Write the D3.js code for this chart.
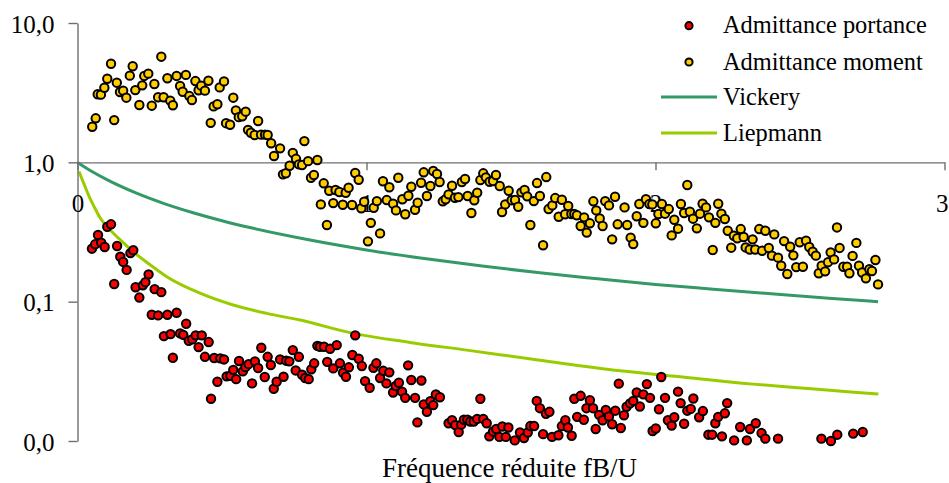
<!DOCTYPE html>
<html><head><meta charset="utf-8">
<script src="https://cdn.jsdelivr.net/npm/d3@7"></script>
</head>
<body style="margin:0">
<svg id="chart" width="949" height="483" style="font-family:'Liberation Serif'"></svg>
<script>
// ---- data ----
const xTicks = [0, 1, 2, 3];
const yTicks = [0.01, 0.1, 1, 10];
const xTitle = "Fréquence réduite fB/U";
const seriesNames = ["Admittance portance", "Admittance moment", "Vickery", "Liepmann"];

const portance = [[0.050,0.240],[0.061,0.258],[0.071,0.301],[0.082,0.265],[0.094,0.247],[0.103,0.345],[0.116,0.359],[0.127,0.134],[0.137,0.251],[0.148,0.210],[0.158,0.193],[0.170,0.169],[0.183,0.223],[0.193,0.234],[0.201,0.127],[0.214,0.107],[0.226,0.131],[0.235,0.138],[0.246,0.157],[0.257,0.0805],[0.267,0.123],[0.279,0.0797],[0.290,0.117],[0.311,0.0805],[0.343,0.0832],[0.376,0.0694],[0.299,0.0566],[0.322,0.0585],[0.330,0.0396],[0.355,0.0592],[0.366,0.0578],[0.385,0.0524],[0.397,0.0536],[0.409,0.0573],[0.419,0.0472],[0.430,0.0573],[0.441,0.0402],[0.454,0.0513],[0.462,0.0201],[0.473,0.0394],[0.484,0.0266],[0.494,0.0392],[0.507,0.0385],[0.516,0.0291],[0.529,0.0294],[0.539,0.0324],[0.549,0.0278],[0.559,0.0375],[0.572,0.0316],[0.581,0.0339],[0.592,0.0356],[0.604,0.0259],[0.614,0.0373],[0.625,0.0334],[0.636,0.0467],[0.648,0.0288],[0.658,0.0402],[0.669,0.0351],[0.679,0.0237],[0.689,0.0266],[0.701,0.0385],[0.713,0.0289],[0.722,0.0377],[0.733,0.0373],[0.745,0.0449],[0.755,0.0321],[0.766,0.0402],[0.777,0.0299],[0.788,0.0283],[0.800,0.0278],[0.809,0.0327],[0.819,0.0361],[0.830,0.0482],[0.839,0.0475],[0.853,0.0475],[0.864,0.0370],[0.874,0.0459],[0.885,0.0332],[0.897,0.0488],[0.908,0.0361],[0.919,0.0309],[0.929,0.0289],[0.939,0.0338],[0.951,0.0414],[0.961,0.0573],[0.973,0.0389],[0.984,0.0345],[0.995,0.0269],[1.011,0.0241],[1.024,0.0335],[1.034,0.0361],[1.047,0.0283],[1.058,0.0319],[1.069,0.0259],[1.079,0.0311],[1.092,0.0223],[1.101,0.0248],[1.112,0.0262],[1.123,0.0226],[1.134,0.0204],[1.144,0.0349],[1.155,0.0274],[1.168,0.0204],[1.176,0.0136],[1.190,0.0272],[1.198,0.0183],[1.209,0.0162],[1.221,0.0193],[1.231,0.0181],[1.240,0.0216],[1.254,0.0206],[1.284,0.0134],[1.296,0.0141],[1.307,0.0130],[1.319,0.0116],[1.328,0.0131],[1.337,0.0142],[1.349,0.0142],[1.359,0.0138],[1.371,0.0138],[1.383,0.0144],[1.394,0.0201],[1.404,0.0144],[1.416,0.0134],[1.425,0.0108],[1.438,0.0117],[1.449,0.0122],[1.460,0.0107],[1.470,0.0127],[1.482,0.0107],[1.491,0.0125],[1.513,0.0101],[1.531,0.0115],[1.545,0.0105],[1.558,0.0115],[1.567,0.0128],[1.580,0.0128],[1.589,0.0194],[1.600,0.0172],[1.611,0.0112],[1.621,0.0157],[1.633,0.0162],[1.642,0.0107],[1.664,0.0110],[1.676,0.0128],[1.688,0.0141],[1.697,0.0125],[1.710,0.0109],[1.719,0.0201],[1.729,0.0149],[1.741,0.0211],[1.752,0.0142],[1.761,0.0172],[1.773,0.0196],[1.784,0.0172],[1.793,0.0122],[1.805,0.0154],[1.817,0.0141],[1.828,0.0167],[1.839,0.0150],[1.850,0.0132],[1.861,0.0165],[1.873,0.0258],[1.880,0.0124],[1.891,0.0153],[1.900,0.0176],[1.912,0.0186],[1.923,0.0194],[1.935,0.0223],[1.946,0.0177],[1.958,0.0216],[1.970,0.0256],[1.981,0.0204],[1.990,0.0118],[2.001,0.0123],[2.012,0.0169],[2.020,0.0288],[2.033,0.0204],[2.043,0.0141],[2.056,0.0129],[2.065,0.0148],[2.078,0.0226],[2.087,0.0187],[2.099,0.0133],[2.110,0.0165],[2.122,0.0170],[2.131,0.0202],[2.151,0.0148],[2.164,0.0164],[2.183,0.0111],[2.196,0.0111],[2.207,0.0134],[2.217,0.0149],[2.230,0.0108],[2.240,0.0158],[2.248,0.0187],[2.272,0.0101],[2.293,0.0126],[2.316,0.0101],[2.327,0.0122],[2.347,0.0134],[2.367,0.0114],[2.380,0.0104],[2.424,0.0104],[2.574,0.0104],[2.607,0.0100],[2.629,0.0111],[2.684,0.0113],[2.717,0.0116]];

const moment = [[0.051,1.80],[0.063,2.07],[0.070,3.08],[0.081,3.06],[0.093,3.43],[0.103,3.98],[0.116,5.10],[0.127,2.01],[0.136,3.73],[0.147,3.20],[0.158,3.27],[0.169,2.91],[0.181,4.19],[0.191,4.89],[0.200,3.30],[0.214,2.58],[0.224,3.57],[0.231,4.17],[0.245,4.33],[0.257,2.55],[0.266,3.65],[0.279,2.93],[0.290,5.73],[0.298,2.93],[0.311,4.01],[0.321,2.77],[0.330,2.57],[0.343,4.17],[0.355,3.53],[0.364,3.21],[0.375,4.24],[0.387,2.99],[0.396,2.80],[0.408,3.83],[0.419,3.29],[0.428,3.55],[0.441,3.27],[0.453,3.85],[0.461,1.92],[0.471,2.52],[0.484,2.61],[0.492,3.45],[0.507,3.81],[0.514,1.91],[0.528,1.86],[0.539,2.91],[0.548,2.36],[0.558,2.11],[0.570,2.14],[0.582,2.31],[0.590,1.71],[0.600,1.63],[0.613,1.57],[0.625,1.98],[0.635,1.58],[0.649,1.58],[0.658,1.57],[0.670,1.37],[0.680,1.11],[0.701,1.26],[0.711,0.820],[0.721,0.834],[0.734,0.945],[0.745,1.17],[0.756,1.06],[0.766,0.967],[0.777,0.956],[0.785,1.42],[0.798,1.02],[0.808,0.775],[0.818,0.811],[0.830,1.04],[0.842,0.499],[0.852,0.707],[0.863,0.355],[0.871,0.625],[0.885,0.510],[0.893,0.633],[0.906,0.612],[0.918,0.496],[0.928,0.605],[0.938,0.657],[0.950,0.494],[0.961,0.838],[0.973,0.750],[0.982,0.468],[0.992,0.521],[1.005,0.271],[1.015,0.368],[1.025,0.472],[1.036,0.527],[1.047,0.309],[1.057,0.731],[1.070,0.536],[1.079,0.662],[1.092,0.504],[1.102,0.452],[1.110,0.775],[1.124,0.543],[1.134,0.424],[1.145,0.576],[1.155,0.668],[1.168,0.457],[1.177,0.513],[1.189,0.714],[1.198,0.848],[1.209,0.573],[1.221,0.676],[1.231,0.866],[1.244,0.824],[1.253,0.722],[1.264,0.525],[1.274,0.543],[1.284,0.589],[1.296,0.679],[1.306,0.557],[1.318,0.563],[1.330,0.722],[1.341,0.759],[1.350,0.573],[1.363,0.433],[1.373,0.534],[1.383,0.605],[1.394,0.746],[1.404,0.834],[1.413,0.780],[1.426,0.726],[1.438,0.734],[1.448,0.811],[1.461,0.676],[1.469,0.440],[1.480,0.499],[1.492,0.625],[1.502,0.534],[1.514,0.536],[1.525,0.480],[1.536,0.609],[1.547,0.633],[1.556,0.570],[1.567,0.355],[1.579,0.527],[1.590,0.710],[1.600,0.573],[1.611,0.254],[1.622,0.784],[1.630,0.462],[1.643,0.491],[1.653,0.554],[1.665,0.407],[1.676,0.539],[1.687,0.424],[1.698,0.486],[1.709,0.426],[1.719,0.426],[1.728,0.417],[1.741,0.349],[1.753,0.403],[1.762,0.313],[1.773,0.365],[1.785,0.525],[1.795,0.452],[1.807,0.396],[1.817,0.349],[1.826,0.527],[1.839,0.491],[1.850,0.280],[1.860,0.566],[1.869,0.359],[1.893,0.475],[1.902,0.355],[1.914,0.288],[1.923,0.259],[1.935,0.410],[1.944,0.502],[1.958,0.368],[1.967,0.543],[1.979,0.502],[1.989,0.499],[2.001,0.365],[2.010,0.426],[2.022,0.502],[2.033,0.428],[2.046,0.462],[2.056,0.299],[2.065,0.387],[2.078,0.334],[2.088,0.502],[2.099,0.433],[2.110,0.687],[2.119,0.442],[2.130,0.394],[2.143,0.336],[2.154,0.428],[2.163,0.504],[2.175,0.475],[2.185,0.403],[2.198,0.235],[2.207,0.368],[2.217,0.504],[2.228,0.428],[2.240,0.392],[2.250,0.323],[2.262,0.244],[2.271,0.297],[2.283,0.285],[2.295,0.332],[2.305,0.291],[2.312,0.245],[2.326,0.237],[2.336,0.280],[2.345,0.237],[2.359,0.332],[2.369,0.232],[2.380,0.323],[2.392,0.243],[2.403,0.214],[2.411,0.304],[2.424,0.207],[2.435,0.181],[2.445,0.272],[2.456,0.158],[2.466,0.248],[2.477,0.215],[2.487,0.177],[2.499,0.267],[2.510,0.178],[2.521,0.274],[2.532,0.247],[2.544,0.228],[2.555,0.214],[2.565,0.160],[2.575,0.181],[2.587,0.165],[2.597,0.192],[2.606,0.226],[2.618,0.201],[2.628,0.341],[2.637,0.243],[2.650,0.178],[2.663,0.178],[2.671,0.160],[2.682,0.213],[2.695,0.264],[2.704,0.181],[2.715,0.162],[2.728,0.147],[2.740,0.171],[2.749,0.166],[2.761,0.199],[2.770,0.133]];

const vickery = [[0,1.0],[0.05,0.86],[0.1,0.755],[0.2,0.606],[0.3,0.506],[0.4,0.435],[0.5,0.381],[0.6,0.339],[0.8,0.278],[1.0,0.235],[1.2,0.204],[1.4,0.180],[1.6,0.161],[1.8,0.146],[2.0,0.133],[2.2,0.123],[2.4,0.114],[2.6,0.106],[2.77,0.100]];

const liepmann = [[0.005,0.86],[0.02,0.72],[0.04,0.57],[0.06,0.47],[0.078,0.40],[0.1,0.35],[0.15,0.275],[0.193,0.228],[0.25,0.185],[0.309,0.151],[0.424,0.115],[0.539,0.0946],[0.655,0.0824],[0.77,0.0738],[0.954,0.0592],[1.15,0.051],[1.347,0.0449],[1.6,0.038],[1.877,0.0319],[2.1,0.0287],[2.338,0.0256],[2.55,0.0236],[2.771,0.0217]];

// ---- drawing ----
const svg = d3.select("#chart");
const x = d3.scaleLinear().domain([0, 3]).range([77.5, 944.5]);
const y = d3.scaleLog().domain([0.01, 10]).range([441, 23]);
const axisColor = "#6f6f6f";
const fmt = d => d3.format(".1f")(d).replace(".", ",");
const serif = sel => sel.style("font-family", "'Liberation Serif'");

// lines (behind points)
const line = d3.line().x(d => x(d[0])).y(d => y(d[1])).curve(d3.curveMonotoneX);
svg.append("path").datum(vickery).attr("d", line).attr("fill", "none").attr("stroke", "#339966").attr("stroke-width", 3);
svg.append("path").datum(liepmann).attr("d", line).attr("fill", "none").attr("stroke", "#99CC00").attr("stroke-width", 3);

// y axis
const gy = svg.append("g").attr("transform", "translate(77.5,0)")
  .call(d3.axisLeft(y).tickValues(yTicks).tickFormat(fmt).tickSize(9).tickSizeOuter(0).tickPadding(14));
gy.attr("font-family", null).attr("font-size", null);
gy.selectAll("text").attr("font-size", 25).attr("fill", "#000").attr("dy", "0.36em").call(serif);

// x axis at y = 1
const gx = svg.append("g").attr("transform", `translate(0,${y(1)})`)
  .call(d3.axisBottom(x).tickValues(xTicks).tickFormat(d3.format("d")).tickSize(8).tickSizeOuter(0).tickPadding(24));
gx.attr("font-family", null).attr("font-size", null);
gx.selectAll("text").attr("font-size", 25).attr("fill", "#000").call(serif);
// keep the last label inside the picture (it sits at the right edge)
gx.selectAll(".tick text").filter(d => d === xTicks[xTicks.length - 1])
  .attr("text-anchor", "end").attr("x", 3.5);

svg.selectAll(".domain, .tick line").attr("stroke", axisColor).attr("stroke-width", 1.4);

// points
function dots(data, fill) {
  svg.append("g").selectAll("circle").data(data).join("circle")
    .attr("cx", d => x(d[0])).attr("cy", d => y(d[1])).attr("r", 4.2)
    .attr("fill", fill).attr("stroke", "#000").attr("stroke-width", 2);
}
dots(portance, "#FF0000");
dots(moment, "#FFCC00");

// x title
svg.append("text").attr("x", 509.5).attr("y", 476.5).attr("text-anchor", "middle")
  .attr("font-size", 27).attr("fill", "#000").call(serif).text(xTitle);

// legend
const lg = svg.append("g");
const legY = [25.7, 62, 97, 133];
const legItems = [
  {name: seriesNames[0], type: "dot", color: "#FF0000"},
  {name: seriesNames[1], type: "dot", color: "#FFCC00"},
  {name: seriesNames[2], type: "line", color: "#339966"},
  {name: seriesNames[3], type: "line", color: "#99CC00"}
];
legItems.forEach((it, i) => {
  if (it.type === "dot") {
    lg.append("circle").attr("cx", 689).attr("cy", legY[i]).attr("r", 3.6)
      .attr("fill", it.color).attr("stroke", "#000").attr("stroke-width", 2);
  } else {
    lg.append("line").attr("x1", 661).attr("x2", 717).attr("y1", legY[i]).attr("y2", legY[i])
      .attr("stroke", it.color).attr("stroke-width", 3);
  }
  lg.append("text").attr("x", 723).attr("y", legY[i] + 7.5).attr("font-size", 24.4)
    .attr("fill", "#000").call(serif).text(it.name);
});
</script>
</body></html>
